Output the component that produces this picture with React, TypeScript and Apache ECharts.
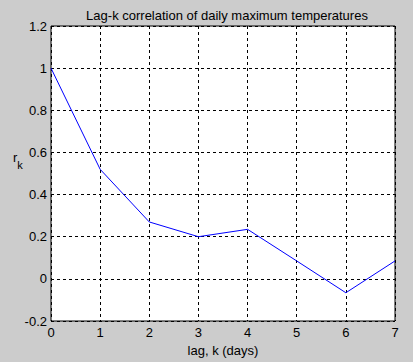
import React, { useEffect, useRef } from "react";
import * as echarts from "echarts";

const lags = [0, 1, 2, 3, 4, 5, 6, 7];
const rk = [1.0, 0.52, 0.27, 0.2, 0.235, 0.085, -0.066, 0.085];
const titleText = "Lag-k correlation of daily maximum temperatures";
const xLabel = "lag, k (days)";

export default function App() {
  const ref = useRef<HTMLDivElement>(null);
  useEffect(() => {
    document.body.style.margin = "0";
    const chart = echarts.init(ref.current!, null, { renderer: "svg" });
    const font = "'Liberation Sans', Arial, sans-serif";
    chart.setOption({
      animation: false,
      backgroundColor: "#cccccc",
      title: {
        text: titleText,
        left: 222,
        textAlign: "center",
        top: 4,
        textStyle: { fontFamily: font, fontSize: 13, fontWeight: "normal", color: "#000" },
      },
      grid: { left: 51, top: 26, width: 344, height: 295, backgroundColor: "#ffffff", show: true, borderColor: "#000", borderWidth: 1 },
      xAxis: {
        type: "value",
        min: 0,
        max: 7,
        interval: 1,
        name: xLabel,
        nameLocation: "middle",
        nameGap: 22,
        nameTextStyle: { fontFamily: font, fontSize: 13, color: "#000" },
        axisLine: { show: false },
        axisTick: { show: false },
        axisLabel: { fontFamily: font, fontSize: 13, color: "#000", margin: 5 },
        splitLine: { show: true, lineStyle: { color: "#000", type: [3, 3], width: 1 } },
      },
      yAxis: {
        type: "value",
        min: -0.2,
        max: 1.2,
        interval: 0.2,
        axisLine: { show: false },
        axisTick: { show: false },
        axisLabel: {
          fontFamily: font,
          fontSize: 13,
          color: "#000",
          margin: 4,
          formatter: (v: number) => String(Math.round(v * 10) / 10),
        },
        splitLine: { show: true, lineStyle: { color: "#000", type: [3, 3], width: 1 } },
      },
      graphic: [
        {
          type: "text",
          left: 13,
          top: 151,
          style: {
            text: "{r|r}{k|k}",
            rich: {
              r: { fontFamily: font, fontSize: 13, fill: "#000", verticalAlign: "top" },
              k: { fontFamily: font, fontSize: 11, fill: "#000", padding: [8, 0, 0, 0] },
            },
          },
        },
      ],
      series: [
        {
          type: "line",
          data: lags.map((x, i) => [x, rk[i]]),
          symbol: "none",
          lineStyle: { color: "#0000ff", width: 1 },
          z: 5,
        },
      ],
    });
    return () => chart.dispose();
  }, []);
  return <div ref={ref} style={{ width: 413, height: 362 }} />;
}
